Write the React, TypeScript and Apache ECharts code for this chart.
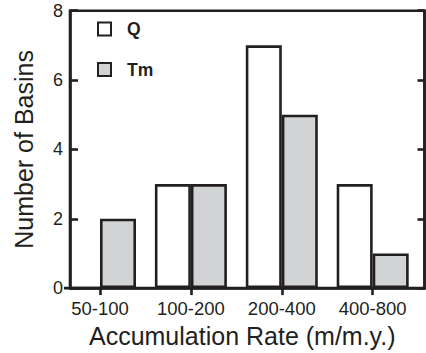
import React, { useEffect, useRef } from "react";
import * as echarts from "echarts";

const categories = ["50-100", "100-200", "200-400", "400-800"];
const qValues = [0, 3, 7, 3];
const tmValues = [2, 3, 5, 1];
const yTicks = [0, 2, 4, 6, 8];

const INK = "#231f20";
const FONT = "'Liberation Sans', Arial, Helvetica, sans-serif";

export default function App() {
  const ref = useRef<HTMLDivElement>(null);
  useEffect(() => {
    document.body.style.margin = "0";
    const chart = echarts.init(ref.current!, null, { renderer: "svg" });
    const idx = categories.map((_, i) => i);
    chart.setOption({
      animation: false,
      backgroundColor: "#ffffff",
      textStyle: { fontFamily: FONT },
      grid: {
        left: 70,
        right: 1.5,
        top: 10.7,
        bottom: 63.5,
        show: true,
        borderColor: INK,
        borderWidth: 2.6,
        backgroundColor: "transparent",
      },
      legend: {
        orient: "vertical",
        left: 97,
        top: 20,
        padding: 0,
        itemWidth: 13,
        itemHeight: 13,
        itemGap: 22.5,
        icon: "rect",
        selectedMode: false,
        textStyle: {
          fontFamily: FONT,
          fontWeight: "bold",
          fontSize: 17.5,
          color: INK,
          lineHeight: 13,
          padding: [0, 0, 0, 11],
        },
        itemStyle: { borderColor: INK, borderWidth: 2 },
        data: ["Q", "Tm"],
      },
      xAxis: {
        type: "value",
        min: -0.33,
        max: 3.57,
        splitLine: { show: false },
        axisLine: { show: true, onZero: false, lineStyle: { color: INK, width: 2.6 } },
        axisTick: {
          show: true,
          inside: false,
          length: 7,
          customValues: idx,
          lineStyle: { color: INK, width: 2.6 },
        },
        axisLabel: {
          customValues: idx,
          formatter: (v: number) => categories[Math.round(v)] ?? "",
          fontSize: 18.5,
          color: INK,
          margin: 11,
          fontFamily: FONT,
        },
        name: "Accumulation Rate (m/m.y.)",
        nameLocation: "middle",
        nameGap: 33.5,
        nameTextStyle: { fontSize: 25, color: INK, fontFamily: FONT, padding: [0, 10, 0, 0] },
      },
      yAxis: [
        {
          type: "value",
          min: 0,
          max: 8,
          interval: 2,
          splitLine: { show: false },
          axisLine: { show: true, onZero: false, lineStyle: { color: INK, width: 2.6 } },
          axisTick: { show: true, inside: true, length: 8, lineStyle: { color: INK, width: 2.6 } },
          axisLabel: {
            fontSize: 18,
            color: INK,
            margin: 7,
            fontFamily: FONT,
            formatter: (v: number) => (yTicks.includes(v) ? String(v) : ""),
          },
          name: "Number of Basins",
          nameLocation: "middle",
          nameGap: 34,
          nameTextStyle: { fontSize: 25, color: INK, fontFamily: FONT },
        },
        {
          type: "value",
          position: "right",
          min: 0,
          max: 8,
          interval: 2,
          splitLine: { show: false },
          axisLine: { show: true, onZero: false, lineStyle: { color: INK, width: 2.6 } },
          axisTick: { show: true, inside: true, length: 7, lineStyle: { color: INK, width: 2.6 } },
          axisLabel: { show: false },
        },
      ],
      series: [
        {
          name: "Q",
          type: "bar",
          barWidth: 36,
          barGap: "0%",
          data: qValues.map((v, i) => [i, v]),
          itemStyle: { color: "#ffffff", borderColor: INK, borderWidth: 2.6 },
        },
        {
          name: "Tm",
          type: "bar",
          barWidth: 36,
          barGap: "0%",
          data: tmValues.map((v, i) => [i, v]),
          itemStyle: { color: "#d1d3d4", borderColor: INK, borderWidth: 2.6 },
        },
      ],
    });
    return () => chart.dispose();
  }, []);
  return <div ref={ref} style={{ width: 426, height: 353 }} />;
}
